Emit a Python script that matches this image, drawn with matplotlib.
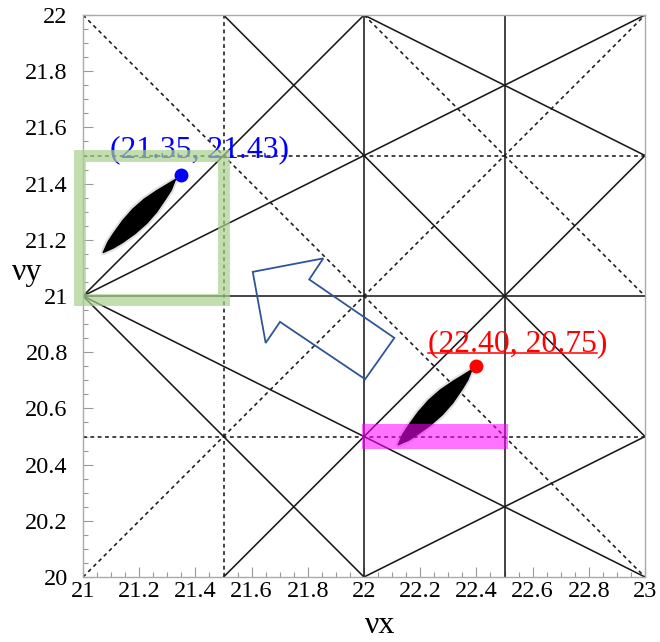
import matplotlib
matplotlib.use("Agg")
import matplotlib.pyplot as plt
from matplotlib.patches import Polygon, Rectangle

plt.rcParams["font.family"] = ["Liberation Serif", "DejaVu Serif"]

# resonance lines a*x + b*y = c
solid_lines = [(1, 0, 22), (1, 0, 22.5), (0, 1, 21), (1, -1, 0), (1, 1, 42),
               (1, 2, 63), (-1, 2, 21), (1, 2, 66), (2, 2, 87), (2, -2, 3),
               (-1, 2, 18)]
dotted_lines = [(2, 0, 43), (0, 2, 43), (0, 2, 41), (1, 1, 43), (1, 1, 44),
                (1, -1, 1)]

xticks = [21, 21.2, 21.4, 21.6, 21.8, 22, 22.2, 22.4, 22.6, 22.8, 23]
xtick_labels = ["21", "21.2", "21.4", "21.6", "21.8", "22", "22.2", "22.4",
                "22.6", "22.8", "23"]
yticks = [20, 20.2, 20.4, 20.6, 20.8, 21, 21.2, 21.4, 21.6, 21.8, 22]
ytick_labels = ["20", "20.2", "20.4", "20.6", "20.8", "21", "21.2", "21.4",
                "21.6", "21.8", "22"]

# tune footprints (outline)
foot1_x = [21.072, 21.088, 21.108, 21.141, 21.177, 21.218, 21.264, 21.296,
           21.329, 21.314, 21.294, 21.262, 21.227, 21.185, 21.140, 21.108]
foot1_y = [21.155, 21.191, 21.222, 21.268, 21.309, 21.345, 21.376, 21.395,
           21.415, 21.377, 21.346, 21.299, 21.259, 21.222, 21.190, 21.171]
foot2_x = [22.122, 22.138, 22.159, 22.193, 22.230, 22.272, 22.319, 22.352,
           22.384, 22.369, 22.349, 22.316, 22.279, 22.237, 22.191, 22.159]
foot2_y = [20.471, 20.508, 20.540, 20.587, 20.629, 20.666, 20.698, 20.718,
           20.738, 20.701, 20.668, 20.620, 20.578, 20.541, 20.508, 20.487]

tune1 = (21.35, 21.43)
tune2 = (22.40, 20.75)
label1 = "(21.35, 21.43)"
label2 = "(22.40, 20.75)"

# outline arrow (up-left)
arrow_x = [21.604, 21.855, 21.805, 22.108, 22.004, 21.701, 21.650]
arrow_y = [21.086, 21.134, 21.059, 20.851, 20.704, 20.908, 20.833]

fig = plt.figure(figsize=(6.6, 6.42), dpi=100)
ax = fig.add_axes([0.1258, 0.1012, 0.8515, 0.8754])
ax.set_xlim(21, 23)
ax.set_ylim(20, 22)

def draw_line(a, b, c, **kw):
    if b == 0:
        p1, p2 = (c / a, 20), (c / a, 22)
    else:
        p1, p2 = (21, (c - a * 21) / b), (23, (c - a * 23) / b)
    ax.axline(p1, p2, **kw)

for a, b, c in solid_lines:
    draw_line(a, b, c, color="#1a1a1a", lw=1.15, zorder=2)
for a, b, c in dotted_lines:
    draw_line(a, b, c, color="#1a1a1a", lw=1.15, linestyle=(0, (2.4, 2.2)), zorder=2)

# footprints
for fx, fy in [(foot1_x, foot1_y), (foot2_x, foot2_y)]:
    pts = list(zip(fx, fy))
    ax.add_patch(Polygon(pts, closed=True, facecolor="none", edgecolor="black",
                         lw=4, alpha=0.12, joinstyle="round", zorder=3))
    ax.add_patch(Polygon(pts, closed=True, facecolor="black", edgecolor="black",
                         lw=1.0, joinstyle="round", zorder=3))

ax.plot(*tune1, "o", color="blue", markersize=9, zorder=4)
ax.plot(*tune2, "o", color="red", markersize=9, zorder=4)

ax.text(21.096, 21.494, label1, color="blue", fontsize=22.8, ha="left",
        va="baseline", zorder=5)
t2 = ax.text(22.228, 20.805, label2, color="red", fontsize=22.8, ha="left",
             va="baseline", zorder=5)

# highlight boxes
ax.add_patch(Rectangle((20.99, 20.985), 0.51, 0.513, fill=False,
                       edgecolor="#a9d18e", lw=8.6, alpha=0.7, clip_on=False,
                       zorder=6))
ax.add_patch(Rectangle((21.992, 20.457), 0.522, 0.089, facecolor="#ff00ff",
                       edgecolor="none", alpha=0.55, zorder=6))

ax.add_patch(Polygon(list(zip(arrow_x, arrow_y)), closed=True, fill=False,
                     edgecolor="#2f5597", lw=1.3, zorder=6))

ax.set_xticks(xticks)
ax.set_xticklabels(xtick_labels)
ax.set_yticks(yticks)
ax.set_yticklabels(ytick_labels)
ax.set_xticks([21 + 0.05 * i for i in range(41)], minor=True)
ax.set_yticks([20 + 0.05 * i for i in range(41)], minor=True)
ax.tick_params(which="both", direction="in", color="#999999", width=0.8,
               top=False, right=False)
ax.tick_params(which="major", length=7, labelsize=17.5)
ax.tick_params(axis="x", which="major", pad=3)
ax.tick_params(axis="y", which="major", pad=11)
ax.tick_params(which="minor", length=3.6)
for s in ax.spines.values():
    s.set_color("#aaaaaa")
    s.set_linewidth(1.0)

ax.text(-0.126, 0.528, "νy", transform=ax.transAxes, fontsize=23,
        ha="left", va="baseline")
ax.text(0.528, -0.100, "νx", transform=ax.transAxes, fontsize=23,
        ha="center", va="baseline")

# underline of the red label (without closing bracket)
fig.canvas.draw()
renderer = fig.canvas.get_renderer()
bb = t2.get_window_extent(renderer)
tmp = ax.text(0, 0, label2[:-1], fontsize=22.8)
w = tmp.get_window_extent(renderer).width
tmp.remove()
base = ax.transData.transform((22.228, 20.805))
inv = ax.transData.inverted()
u0 = inv.transform((bb.x0, base[1] - 2))
u1 = inv.transform((bb.x0 + w, base[1] - 2))
ax.plot([u0[0], u1[0]], [u0[1], u1[1]], color="red", lw=1.1, zorder=5,
        clip_on=False)

fig.savefig("out.png", dpi=100)
